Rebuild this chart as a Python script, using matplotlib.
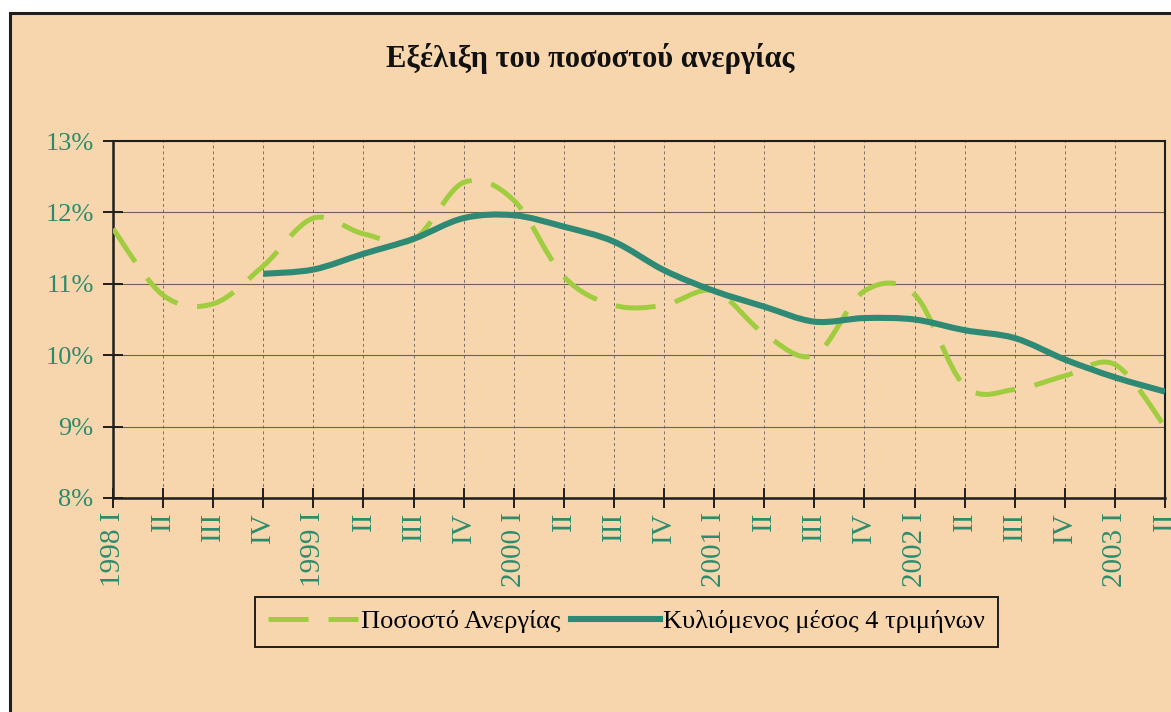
import numpy as np
import matplotlib
matplotlib.use('Agg')
import matplotlib.pyplot as plt
from matplotlib.path import Path
from matplotlib.patches import PathPatch, Rectangle
from matplotlib.lines import Line2D

# Quarterly data 1998 I - 2003 II
years = ['1998', '1999', '2000', '2001', '2002', '2003']
quarters = ['I', 'II', 'III', 'IV']
n_quarters = 22

# Unemployment rate (%)
rate = [11.77, 10.84, 10.72, 11.25, 11.92, 11.70, 11.62, 12.42, 12.17, 11.10, 10.70,
        10.70, 10.90, 10.30, 10.00, 10.90, 10.85, 9.57, 9.52, 9.71, 9.87, 9.00]
# 4-quarter moving average (%), starts at 1998 IV
moving_avg = [None, None, None, 11.14, 11.20, 11.42, 11.63, 11.92, 11.96, 11.80, 11.59,
              11.19, 10.90, 10.68, 10.47, 10.52, 10.50, 10.35, 10.24, 9.94, 9.69, 9.49]

y_ticks = [8, 9, 10, 11, 12, 13]

bg = '#f8d6ad'
teal_text = '#2b8c6c'
green = '#a0cd40'
teal = '#2e8a74'
dark = '#1e1e1e'


def smooth_path(xs, ys):
    """Catmull-Rom style bezier path through the points (like Excel smoothed lines)."""
    pts = np.column_stack([xs, ys]).astype(float)
    n = len(pts)
    verts = [pts[0]]
    codes = [Path.MOVETO]
    for i in range(n - 1):
        p0 = pts[max(i - 1, 0)]
        p1 = pts[i]
        p2 = pts[i + 1]
        p3 = pts[min(i + 2, n - 1)]
        verts += [p1 + (p2 - p0) / 6, p2 - (p3 - p1) / 6, p2]
        codes += [Path.CURVE4] * 3
    return Path(verts, codes)


# tick labels: year on the first quarter
labels = []
for i in range(n_quarters):
    q = quarters[i % 4]
    if i % 4 == 0:
        labels.append(f'{years[i // 4]} {q}')
    else:
        labels.append(q)

plt.rcParams['font.family'] = ['Liberation Serif', 'DejaVu Serif']

fig = plt.figure(figsize=(11.71, 7.12), dpi=100)
fig.patch.set_facecolor('white')
frame = Rectangle((10 / 1171, -0.05), 1.2, 1 - 13 / 712 + 0.05, transform=fig.transFigure,
                  facecolor=bg, edgecolor=dark, linewidth=2.2, zorder=0)
fig.add_artist(frame)

ax = fig.add_axes([113 / 1171, 1 - 498 / 712, (1165 - 113) / 1171, (498 - 141) / 712])
ax.set_facecolor('none')

x = np.arange(n_quarters)
rate_path = smooth_path(x, rate)
ax.add_patch(PathPatch(rate_path, fill=False, edgecolor=green, linewidth=3.6,
                       linestyle=(0, (8, 4)), capstyle='butt', joinstyle='round', zorder=3))

ma_x = [i for i, v in enumerate(moving_avg) if v is not None]
ma_y = [v for v in moving_avg if v is not None]
ma_path = smooth_path(ma_x, ma_y)
ax.add_patch(PathPatch(ma_path, fill=False, edgecolor=teal, linewidth=4.4,
                       capstyle='butt', joinstyle='round', zorder=4))

ax.set_xlim(0, n_quarters - 1)
ax.set_ylim(8, 13)

ax.set_xticks(x)
ax.set_xticklabels(labels, rotation=90, fontsize=21, color=teal_text)
ax.set_yticks(y_ticks)
ax.set_yticklabels([f'{v}%' for v in y_ticks], fontsize=19, color=teal_text)
ax.tick_params(axis='both', direction='inout', length=14, width=1.4, color=dark)
ax.tick_params(axis='x', pad=3)
ax.tick_params(axis='y', pad=7)

for side in ['left', 'bottom']:
    ax.spines[side].set_linewidth(1.8)
    ax.spines[side].set_color(dark)
for side in ['top', 'right']:
    ax.spines[side].set_linewidth(1.5)
    ax.spines[side].set_color(dark)

ax.set_axisbelow(True)
ax.yaxis.grid(True, color='#6e6258', linewidth=0.8, linestyle='-')
ax.xaxis.grid(True, color='#7d6e64', linewidth=0.7, linestyle=(0, (3, 3)))

fig.text(0.504, 0.918, 'Εξέλιξη του ποσοστού ανεργίας', ha='center', va='center',
         fontsize=22, fontweight='bold', color='#111111')

handles = [Line2D([], [], color=green, linewidth=3.6, linestyle=(0, (8, 4)), dash_capstyle='butt'),
           Line2D([], [], color=teal, linewidth=4.4)]
leg = fig.legend(handles, ['Ποσοστό Ανεργίας', 'Κυλιόμενος μέσος 4 τριμήνων'],
                 loc='center', bbox_to_anchor=(0.535, 0.127), ncol=2, frameon=True,
                 fancybox=False, edgecolor=dark, facecolor=bg, framealpha=1,
                 handlelength=3.4, handletextpad=0.1, columnspacing=0.4, borderpad=0.5,
                 prop={'family': 'Liberation Serif', 'size': 19})
leg.get_frame().set_linewidth(1.4)

fig.savefig('out.png', dpi=100, facecolor=fig.get_facecolor())
